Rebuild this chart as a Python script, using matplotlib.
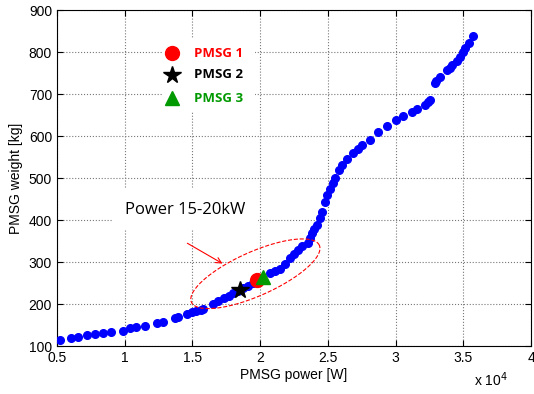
import numpy as np
import matplotlib
matplotlib.use('Agg')
import matplotlib.pyplot as plt
from matplotlib.patches import Rectangle

# PMSG power (x 1e4 W) and weight (kg)
power = [0.52, 0.60, 0.655, 0.72, 0.78, 0.84, 0.90, 0.99, 1.04, 1.08, 1.15, 1.24, 1.28,
         1.37, 1.39, 1.46, 1.50, 1.53, 1.56, 1.58, 1.65, 1.69, 1.73, 1.77, 1.80, 1.84, 1.87,
         1.91, 1.95, 2.07, 2.11, 2.15, 2.18, 2.22, 2.25, 2.28, 2.31,
         2.35, 2.37, 2.38, 2.40, 2.42, 2.44, 2.457, 2.479, 2.494, 2.516, 2.535, 2.553,
         2.58, 2.605, 2.642, 2.686, 2.72, 2.753,
         2.81, 2.87, 2.94, 3.0, 3.055, 3.12, 3.16, 3.22, 3.24, 3.255, 3.29, 3.30, 3.33, 3.38,
         3.40, 3.42, 3.45, 3.476, 3.50, 3.51, 3.54, 3.57]
weight = [114, 119, 121, 126, 129, 131, 133, 136, 143, 145, 148, 155, 157,
          167, 168, 176, 181, 184, 186, 188, 200, 207, 214, 220, 226, 232, 238,
          244, 250, 274, 278, 283, 296, 310, 318, 329, 337,
          345, 358, 369, 378, 388, 404, 419, 443, 460, 475, 488, 500,
          518, 531, 545, 560, 568, 579,
          590, 610, 624, 638, 648, 657, 664, 674, 680, 686, 726, 730, 740, 757,
          762, 769, 778, 788, 800, 810, 821, 838]

pmsg_names = ['PMSG 1', 'PMSG 2', 'PMSG 3']
pmsg_power = [1.977, 1.85, 2.02]
pmsg_weight = [257, 233, 264]
pmsg_colors = ['#ff0000', '#000000', '#009900']
pmsg_markers = ['o', '*', '^']

plt.rcParams['font.family'] = ['Liberation Sans', 'DejaVu Sans']
fig = plt.figure(figsize=(5.34, 3.94), dpi=100)
ax = fig.add_axes([0.1067, 0.1218, 0.8877, 0.8528])

ax.plot(power, weight, 'o', color='#0000ff', ms=5.5, mec='#0000ff', zorder=3)
for n, x, y, c, m in zip(pmsg_names, pmsg_power, pmsg_weight, pmsg_colors, pmsg_markers):
    s = 13 if m == '*' else 10
    ax.plot(x, y, m, color=c, ms=s, zorder=4)

ax.set_xlim(0.5, 4)
ax.set_ylim(100, 900)
ax.set_xticks([0.5, 1, 1.5, 2, 2.5, 3, 3.5, 4])
ax.set_xticklabels(['0.5', '1', '1.5', '2', '2.5', '3', '3.5', '4'])
ax.set_yticks(range(100, 901, 100))
ax.tick_params(direction='in', top=True, right=True, labelsize=10, length=4)
ax.grid(True, linestyle=':', color='#777777', linewidth=0.8)
ax.set_xlabel('PMSG power [W]', fontsize=10, labelpad=2)
ax.set_ylabel('PMSG weight [kg]', fontsize=10, labelpad=4)
fig.text(0.888, 0.02, r'x 10$^{4}$', fontsize=10)

# legend box
ax.add_patch(Rectangle((0.224, 0.70), 0.194, 0.215, transform=ax.transAxes,
                       facecolor='white', edgecolor='none', zorder=2))
ly = [0.872, 0.807, 0.738]
for n, c, m, yy in zip(pmsg_names, pmsg_colors, pmsg_markers, ly):
    s = 13 if m == '*' else 10
    ax.plot(0.243, yy, m, color=c, ms=s, transform=ax.transAxes, zorder=4)
    ax.text(0.29, yy, n, color=c, fontsize=9.5, fontweight='bold',
            transform=ax.transAxes, va='center', ha='left',
            family=['Open Sans', 'DejaVu Sans'], zorder=4)

# annotation
ax.text(1.445, 424, 'Power 15-20kW', fontsize=12, ha='center', va='center',
        family=['Open Sans', 'DejaVu Sans'],
        bbox=dict(facecolor='white', edgecolor='none', pad=9), zorder=4)
ax.annotate('', xy=(1.74, 293), xytext=(1.445, 348),
            arrowprops=dict(arrowstyle='->', color='red', lw=0.8))

# dashed ellipse in pixel-like units, converted to data
t = np.linspace(0, 2 * np.pi, 200)
ang = np.deg2rad(24)
a, b = 70, 22
ex = a * np.cos(t) * np.cos(ang) - b * np.sin(t) * np.sin(ang)
ey = a * np.cos(t) * np.sin(ang) + b * np.sin(t) * np.cos(ang)
ax.plot(1.965 + ex / 135.4, 272 + ey / 0.42, '--', color='red', lw=0.8, zorder=3)

fig.savefig('out.png', dpi=100)
